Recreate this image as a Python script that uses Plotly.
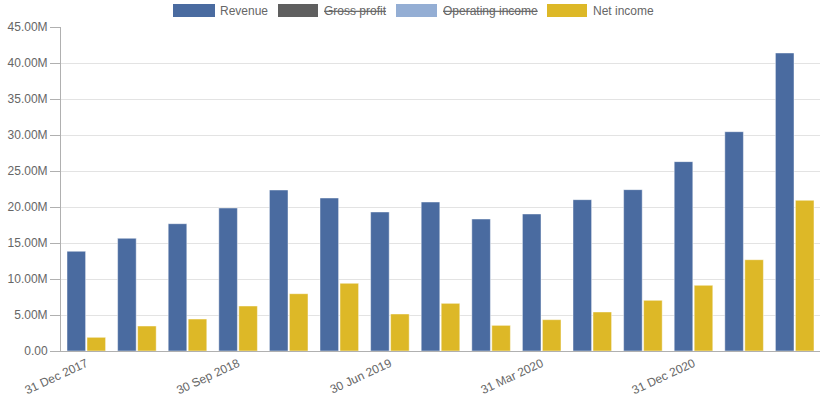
import plotly.graph_objects as go

quarters = ["31 Dec 2017", "31 Mar 2018", "30 Jun 2018", "30 Sep 2018", "31 Dec 2018",
            "31 Mar 2019", "30 Jun 2019", "30 Sep 2019", "31 Dec 2019", "31 Mar 2020",
            "30 Jun 2020", "30 Sep 2020", "31 Dec 2020", "31 Mar 2021", "30 Jun 2021"]
revenue = [13.85e6, 15.65e6, 17.68e6, 19.86e6, 22.36e6, 21.25e6, 19.31e6, 20.69e6,
           18.33e6, 19.03e6, 21.02e6, 22.41e6, 26.30e6, 30.46e6, 41.39e6]
net_income = [1.90e6, 3.47e6, 4.44e6, 6.25e6, 7.96e6, 9.40e6, 5.14e6, 6.62e6,
              3.56e6, 4.35e6, 5.42e6, 7.04e6, 9.12e6, 12.68e6, 20.93e6]
series_names = ["Revenue", "Gross profit", "Operating income", "Net income"]
series_hidden = [False, True, True, False]
series_colors = ["#4a6ba0", "#5f5f5f", "#94aed4", "#ddb827"]
y_tick_vals = [0, 5e6, 10e6, 15e6, 20e6, 25e6, 30e6, 35e6, 40e6, 45e6]
y_tick_text = ["0.00", "5.00M", "10.00M", "15.00M", "20.00M", "25.00M",
               "30.00M", "35.00M", "40.00M", "45.00M"]
x_tick_vals = quarters[::3]

W, H = 825, 399
ML, MR, MT, MB = 61, 5, 27, 48
PW, PH = W - ML - MR, H - MT - MB


def px_x(px):
    return (px - ML) / PW


def px_y(py):
    return (H - MB - py) / PH


FONT = "Liberation Sans, Arial, sans-serif"
fig = go.Figure()
edge = "rgba(255,255,255,0.45)"
fig.add_trace(go.Bar(x=quarters, y=revenue, name=series_names[0],
                     marker=dict(color=series_colors[0], line=dict(color=edge, width=1)),
                     showlegend=False))
fig.add_trace(go.Bar(x=quarters, y=net_income, name=series_names[3],
                     marker=dict(color=series_colors[3], line=dict(color=edge, width=1)),
                     showlegend=False))

# legend drawn manually (wide swatches, struck-through hidden series)
sw_left = [173, 278, 396, 547]
sw_right = [215, 318, 437, 587]
txt_left = [219, 323, 442, 592]
for i, name in enumerate(series_names):
    fig.add_shape(type="rect", xref="paper", yref="paper",
                  x0=px_x(sw_left[i]), x1=px_x(sw_right[i]),
                  y0=px_y(17), y1=px_y(4),
                  fillcolor=series_colors[i], line=dict(width=0), layer="above")
    label = f"<s>{name}</s>" if series_hidden[i] else name
    fig.add_annotation(xref="paper", yref="paper", x=px_x(txt_left[i]), y=px_y(10.5),
                       text=label, showarrow=False, xanchor="left", yanchor="middle",
                       font=dict(family=FONT, size=12, color="#666666"),
                       borderpad=0)

fig.update_layout(
    width=W, height=H,
    margin=dict(l=ML, r=MR, t=MT, b=MB, pad=0, autoexpand=False),
    paper_bgcolor="white", plot_bgcolor="white",
    barmode="group", bargap=0.21, bargroupgap=0.07,
    font=dict(family=FONT, size=12, color="#666666"),
    showlegend=False,
)
fig.update_xaxes(
    type="category", tickmode="array", tickvals=x_tick_vals, ticktext=x_tick_vals,
    tickangle=-25, showline=True, linecolor="#b0b0b0", linewidth=1,
    showgrid=False, ticks="", tickfont=dict(size=12, color="#666666"),
    automargin=False,
)
fig.update_yaxes(
    range=[0, 45e6], tickmode="array", tickvals=y_tick_vals, ticktext=y_tick_text,
    showline=True, linecolor="#b0b0b0", linewidth=1, ticks="outside", ticklen=10,
    tickcolor="#b0b0b0", showgrid=True, gridcolor="#e3e3e3", gridwidth=1,
    zeroline=False, tickfont=dict(size=12, color="#666666"), automargin=False,
)

fig.write_html(
    "out.html",
    config={"displayModeBar": False},
    post_script="document.body.style.margin='0';document.body.style.overflow='hidden';",
)
